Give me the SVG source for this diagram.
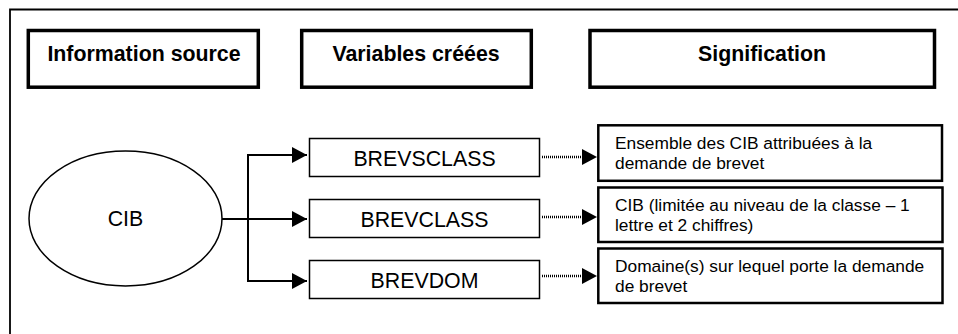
<svg xmlns="http://www.w3.org/2000/svg" width="958" height="334" viewBox="0 0 958 334">
<style>
  .hdr { fill: #fff; stroke: #000; stroke-width: 3.5; }
  .mid { fill: #fff; stroke: #000; stroke-width: 1.5; }
  .sig { fill: #fff; stroke: #000; stroke-width: 2.5; }
  .htxt { font-family: "Liberation Sans", Arial, sans-serif; font-weight: bold; font-size: 21.33px; text-anchor: middle; fill: #000; }
  .mtxt { font-family: "Liberation Sans", Arial, sans-serif; font-size: 21.33px; text-anchor: middle; fill: #000; }
  .stxt { font-family: "Liberation Sans", Arial, sans-serif; font-size: 17.33px; fill: #000; }
  .conn { fill: none; stroke: #000; stroke-width: 2; }
  .dot { fill: none; stroke: #000; stroke-width: 2.5; stroke-dasharray: 1 1; }
</style>
<defs>
  <marker id="arr" markerUnits="userSpaceOnUse" markerWidth="15" markerHeight="16" refX="15" refY="8" orient="auto">
    <path d="M0,0 L15,8 L0,16 z" fill="#000"/>
  </marker>
</defs>
<rect width="958" height="334" fill="#fff"/>
<path d="M10,334 V9.5 H958" fill="none" stroke="#000" stroke-width="1.8"/>

<g id="hdr-source"><rect class="hdr" x="28.3" y="30.5" width="230" height="56.7"/><text class="htxt" x="144" y="61">Information source</text></g>
<g id="hdr-variables"><rect class="hdr" x="301.7" y="30.5" width="229.6" height="56.7"/><text class="htxt" x="416" y="61">Variables créées</text></g>
<g id="hdr-signification"><rect class="hdr" x="590" y="30.5" width="344.5" height="56.7"/><text class="htxt" x="762" y="61">Signification</text></g>

<g id="cib"><ellipse cx="125.5" cy="218.5" rx="96.5" ry="67.5" fill="#fff" stroke="#000" stroke-width="1.5"/><text class="mtxt" x="125.5" y="226">CIB</text></g>

<g id="brevsclass"><rect class="mid" x="309.5" y="138.5" width="230" height="38"/><text class="mtxt" x="424.5" y="165.5">BREVSCLASS</text></g>
<g id="brevclass"><rect class="mid" x="309.5" y="199.5" width="230" height="38"/><text class="mtxt" x="424.5" y="226.5">BREVCLASS</text></g>
<g id="brevdom"><rect class="mid" x="309.5" y="260.5" width="230" height="38"/><text class="mtxt" x="424.5" y="287.5">BREVDOM</text></g>

<g id="sig1"><rect class="sig" x="598.3" y="125.3" width="343.7" height="55.5"/><text class="stxt" x="615" y="149.3">Ensemble des CIB attribuées à la</text><text class="stxt" x="615" y="169.3">demande de brevet</text></g>
<g id="sig2"><rect class="sig" x="598.3" y="187.5" width="344.2" height="54.5" stroke="#555"/><text class="stxt" x="615" y="210.7">CIB (limitée au niveau de la classe – 1</text><text class="stxt" x="615" y="231">lettre et 2 chiffres)</text></g>
<g id="sig3"><rect class="sig" x="598.3" y="248.5" width="344.2" height="54.5"/><text class="stxt" x="615" y="271.7">Domaine(s) sur lequel porte la demande</text><text class="stxt" x="615" y="291.7">de brevet</text></g>

<g id="connectors">
  <path class="conn" d="M248,155 V281"/>
  <path class="conn" d="M247,155 H307" marker-end="url(#arr)"/>
  <path class="conn" d="M222,219 H307" marker-end="url(#arr)"/>
  <path class="conn" d="M247,281 H307" marker-end="url(#arr)"/>
  <path class="dot" d="M542,157 H585"/>
  <path d="M584,157 H597" stroke="none" marker-end="url(#arr)"/>
  <path class="dot" d="M542,217 H585"/>
  <path d="M584,217 H597" stroke="none" marker-end="url(#arr)"/>
  <path class="dot" d="M542,276 H585"/>
  <path d="M584,276 H597" stroke="none" marker-end="url(#arr)"/>
</g>
</svg>
